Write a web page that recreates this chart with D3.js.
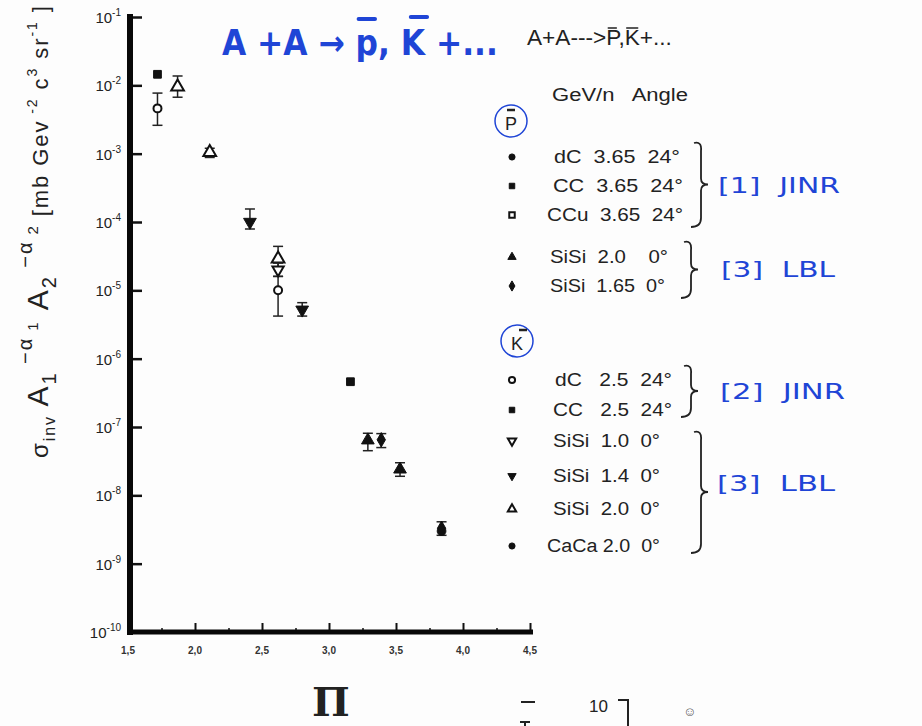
<!DOCTYPE html>
<html>
<head>
<meta charset="utf-8">
<script src="https://cdn.jsdelivr.net/npm/d3@7"></script>
<style>
  body { margin: 0; background: #fdfdfd; }
  svg { font-family: "Liberation Sans", Arial, sans-serif; }
</style>
</head>
<body>
<svg id="chart" width="922" height="726"></svg>
<script>
// ---- data ----
const xTicks = [1.5, 2.0, 2.5, 3.0, 3.5, 4.0, 4.5];
const yExponents = [-1, -2, -3, -4, -5, -6, -7, -8, -9, -10];

// K- series
const kCC_x = [1.72], kCC_y = [1.45e-2];
const kdC_x = [1.72, 2.62], kdC_y = [4.6e-3, 1.0e-5], kdC_lo = [2.6e-3, 4.2e-6], kdC_hi = [7.7e-3, 1.6e-5];
const kSi20_x = [1.87, 2.11, 2.62], kSi20_y = [9.5e-3, 1.05e-3, 2.9e-5], kSi20_lo = [6.7e-3, 8.8e-4, 2.2e-5], kSi20_hi = [1.37e-2, 1.2e-3, 4.4e-5];
const kSi14_x = [2.41, 2.80], kSi14_y = [1.0e-4, 5.2e-6], kSi14_lo = [7.9e-5, 4.2e-6], kSi14_hi = [1.55e-4, 6.6e-6];
const kSi10_x = [2.62], kSi10_y = [2.0e-5], kSi10_lo = [1.6e-5], kSi10_hi = [2.5e-5];
// p-bar series
const pCC_x = [3.16], pCC_y = [4.6e-7];
const pSi20_x = [3.29, 3.53], pSi20_y = [6.4e-8, 2.4e-8], pSi20_lo = [4.5e-8, 1.9e-8], pSi20_hi = [8.1e-8, 3.0e-8];
const pSi165_x = [3.39, 3.84], pSi165_y = [6.5e-8, 3.3e-9], pSi165_lo = [5.0e-8, 2.6e-9], pSi165_hi = [8.0e-8, 4.1e-9];
const pdC_x = [3.84], pdC_y = [3.0e-9];

const pLegend = ["dC  3.65  24°", "CC  3.65  24°", "CCu  3.65  24°", "SiSi  2.0    0°", "SiSi  1.65  0°"];
const pSymbols = ["circleF", "squareF", "squareO", "triF", "diamondF"];
const kLegend = ["dC   2.5  24°", "CC   2.5  24°", "SiSi  1.0  0°", "SiSi  1.4  0°", "SiSi  2.0  0°", "CaCa 2.0  0°"];
const kSymbols = ["circleO", "squareF", "triDownO", "triDownF", "triO", "circleF"];

const svg = d3.select("#chart");
const x = d3.scaleLinear().domain([1.5, 4.5]).range([128, 530]);
const y = d3.scaleLog().domain([1e-10, 1e-1]).range([632, 17]);

// ---- axes ----
svg.append("g")
  .attr("transform", "translate(128,0)")
  .call(d3.axisRight(y).tickValues(yExponents.map(e => Math.pow(10, e))).tickSize(14).tickFormat(""))
  .call(g => g.select(".domain").remove())
  .call(g => g.selectAll("line").attr("stroke", "#111").attr("stroke-width", 2.5));

const xMinor = d3.range(1.75, 4.5, 0.5);
svg.append("g")
  .attr("transform", "translate(0,632)")
  .call(d3.axisTop(x).tickValues(xTicks).tickSize(9).tickFormat(""))
  .call(g => g.select(".domain").remove())
  .call(g => g.selectAll("line").attr("stroke", "#111").attr("stroke-width", 2));
svg.append("g")
  .attr("transform", "translate(0,632)")
  .call(d3.axisTop(x).tickValues(xMinor).tickSize(4).tickFormat(""))
  .call(g => g.select(".domain").remove())
  .call(g => g.selectAll("line").attr("stroke", "#111").attr("stroke-width", 1.5));

svg.append("line").attr("x1", 130).attr("x2", 130).attr("y1", 14).attr("y2", 635)
  .attr("stroke", "#080808").attr("stroke-width", 6);
svg.append("line").attr("x1", 127).attr("x2", 533).attr("y1", 632).attr("y2", 632)
  .attr("stroke", "#080808").attr("stroke-width", 5);

// y tick labels 10^n
yExponents.forEach(e => {
  const t = svg.append("text").attr("x", 121).attr("y", y(Math.pow(10, e)) + 6)
    .attr("text-anchor", "end").attr("fill", "#222").attr("font-size", 15);
  t.append("tspan").text("10");
  t.append("tspan").attr("dy", -7).attr("font-size", 10).text(String(e));
});

// x tick labels with comma decimals
svg.selectAll(".xlab").data(xTicks).enter().append("text")
  .attr("x", d => x(d)).attr("y", 654)
  .attr("text-anchor", "middle").attr("font-size", 10).attr("font-weight", "bold").attr("fill", "#333")
  .text(d => d3.format(".1f")(d).replace(".", ","));

// x axis title
svg.append("text").attr("x", 331).attr("y", 716).attr("text-anchor", "middle")
  .attr("font-family", "DejaVu Serif").attr("font-weight", "bold").attr("font-size", 40).attr("fill", "#222").text("Π");

// y axis title
const yt = svg.append("text").attr("transform", "translate(48,232) rotate(-90)")
  .attr("text-anchor", "middle").attr("fill", "#222").attr("font-size", 30)
  .attr("textLength", 452).attr("lengthAdjust", "spacing");
yt.append("tspan").attr("font-size", 24).text("σ");
yt.append("tspan").attr("font-size", 16).attr("dy", 7).text("inv");
yt.append("tspan").attr("dy", -7).text(" A");
yt.append("tspan").attr("font-size", 20).attr("dy", 8).text("1");
yt.append("tspan").attr("font-size", 20).attr("dy", -24).text(" −α");
yt.append("tspan").attr("font-size", 15).attr("dy", 6).text(" 1");
yt.append("tspan").attr("dy", 10).text(" A");
yt.append("tspan").attr("font-size", 20).attr("dy", 8).text("2");
yt.append("tspan").attr("font-size", 20).attr("dy", -24).text(" −α");
yt.append("tspan").attr("font-size", 15).attr("dy", 6).text(" 2");
yt.append("tspan").attr("font-size", 22).attr("dy", 10).text("  [mb  Gev");
yt.append("tspan").attr("font-size", 14).attr("dy", -11).text(" -2");
yt.append("tspan").attr("font-size", 22).attr("dy", 11).text(" c");
yt.append("tspan").attr("font-size", 14).attr("dy", -11).text("3");
yt.append("tspan").attr("font-size", 22).attr("dy", 11).text("  sr");
yt.append("tspan").attr("font-size", 14).attr("dy", -11).text("-1");
yt.append("tspan").attr("font-size", 22).attr("dy", 11).text(" ]");

// ---- markers ----
function marker(g, kind, cx, cy, s) {
  const filled = kind.endsWith("F");
  const base = kind.slice(0, -1);
  const types = { circle: d3.symbolCircle, square: d3.symbolSquare, tri: d3.symbolTriangle,
                  triDown: d3.symbolTriangle, diamond: d3.symbolDiamond };
  g.append("path")
    .attr("d", d3.symbol().type(types[base]).size(s)())
    .attr("transform", `translate(${cx},${cy})` + (base === "triDown" ? " rotate(180)" : ""))
    .attr("fill", filled ? "#111" : "#fff")
    .attr("stroke", "#111").attr("stroke-width", filled ? 1 : 2);
}

function series(xs, ys, lo, hi, kind, s) {
  const g = svg.append("g");
  if (lo) {
    xs.forEach((d, i) => {
      const px = x(d);
      g.append("line").attr("x1", px).attr("x2", px).attr("y1", y(hi[i])).attr("y2", y(lo[i]))
        .attr("stroke", "#222").attr("stroke-width", 1.5);
      [hi[i], lo[i]].forEach(v => g.append("line").attr("x1", px - 5).attr("x2", px + 5)
        .attr("y1", y(v)).attr("y2", y(v)).attr("stroke", "#222").attr("stroke-width", 1.5));
    });
  }
  xs.forEach((d, i) => marker(g, kind, x(d), y(ys[i]), s));
}

series(kCC_x, kCC_y, null, null, "squareF", 60);
series(kdC_x, kdC_y, kdC_lo, kdC_hi, "circleO", 50);
series(kSi20_x, kSi20_y, kSi20_lo, kSi20_hi, "triO", 70);
series(kSi14_x, kSi14_y, kSi14_lo, kSi14_hi, "triDownF", 70);
series(kSi10_x, kSi10_y, kSi10_lo, kSi10_hi, "triDownO", 55);
series(pCC_x, pCC_y, null, null, "squareF", 60);
series(pSi20_x, pSi20_y, pSi20_lo, pSi20_hi, "triF", 70);
series(pSi165_x, pSi165_y, pSi165_lo, pSi165_hi, "diamondF", 60);
series(pdC_x, pdC_y, null, null, "circleF", 60);

// ---- legend ----
const blue = "#1f45d6";
svg.append("text").attr("x", 552).attr("y", 101).attr("font-size", 18).attr("fill", "#222")
  .attr("xml:space", "preserve").attr("textLength", 136).attr("lengthAdjust", "spacingAndGlyphs")
  .text("GeV/n   Angle");

// fit a text to a width by font size, then put bars over chosen characters
function fitted(sel, width) {
  const fs = +sel.attr("font-size");
  sel.attr("font-size", fs * width / sel.node().getComputedTextLength());
  return sel;
}
function bars(sel, idx, by, dx, sw, color) {
  const node = sel.node();
  idx.forEach(i => {
    const x0 = node.getStartPositionOfChar(i).x, x1 = node.getEndPositionOfChar(i).x;
    svg.append("line").attr("x1", x0 + dx[0]).attr("x2", x1 + dx[1]).attr("y1", by).attr("y2", by)
      .attr("stroke", color).attr("stroke-width", sw).attr("stroke-linecap", "round");
  });
}

const topT = fitted(svg.append("text").attr("x", 527).attr("y", 45).attr("font-size", 15).attr("fill", "#222")
  .text("A+A--->P,K+..."), 145);
bars(topT, [7, 9], 28, [2, -2], 1.3, "#222");

function circled(cx, cy, letter) {
  svg.append("circle").attr("cx", cx).attr("cy", cy).attr("r", 16)
    .attr("fill", "none").attr("stroke", blue).attr("stroke-width", 1.5);
  svg.append("text").attr("x", cx).attr("y", cy + 9).attr("text-anchor", "middle")
    .attr("font-size", 18).attr("fill", "#222").text(letter);
  svg.append("line").attr("x1", cx - 4 + (letter === "K" ? 6 : 0)).attr("x2", cx + 4 + (letter === "K" ? 6 : 0))
    .attr("y1", cy - 11).attr("y2", cy - 11).attr("stroke", "#222").attr("stroke-width", 2.5);
}
circled(511, 121, "P");
circled(517, 341, "K");

function legendRows(labels, symbols, ys, tx, tw) {
  labels.forEach((lab, i) => {
    marker(svg, symbols[i], 512, ys[i] - 6, 30);
    svg.append("text").attr("x", tx[i]).attr("y", ys[i]).attr("font-size", 18).attr("fill", "#222")
      .attr("xml:space", "preserve").attr("textLength", tw[i]).attr("lengthAdjust", "spacingAndGlyphs")
      .text(lab);
  });
}
legendRows(pLegend, pSymbols, [163, 192, 221, 263, 292], [554, 553, 547, 550, 550], [126, 130, 136, 118, 115]);
legendRows(kLegend, kSymbols, [386, 416, 447, 482, 515, 552], [555, 553, 553, 553, 553, 547], [117, 119, 107, 107, 107, 113]);

function brace(bx, y0, y1) {
  const m = (y0 + y1) / 2;
  svg.append("path")
    .attr("d", `M${bx - 6},${y0} Q${bx + 2},${y0 - 2} ${bx + 1},${y0 + 8} L${bx + 1},${m - 6} Q${bx + 1},${m} ${bx + 8},${m}
                Q${bx + 1},${m} ${bx + 1},${m + 6} L${bx + 1},${y1 - 8} Q${bx + 1},${y1 + 1} ${bx - 9},${y1 + 1}`)
    .attr("fill", "none").attr("stroke", "#222").attr("stroke-width", 1.8);
}
brace(700, 143, 226);
brace(690, 242, 297);
brace(690, 366, 416);
brace(700, 432, 552);

function hand(tx, ty, str, w) {
  svg.append("text").attr("x", tx).attr("y", ty).attr("font-size", 22).attr("fill", blue)
    .attr("font-family", "DejaVu Sans Condensed, DejaVu Sans")
    .attr("xml:space", "preserve").attr("textLength", w).attr("lengthAdjust", "spacingAndGlyphs").text(str);
}
hand(718, 193, "[1]  JINR", 122);
hand(721, 277, "[3]  LBL", 114);
hand(720, 399, "[2]  JINR", 125);
hand(717, 491, "[3]  LBL", 118);

// handwritten title
const title = fitted(svg.append("text").attr("x", 222).attr("y", 55).attr("font-size", 34).attr("font-weight", "bold")
  .attr("fill", blue).attr("font-family", "DejaVu Sans Condensed, DejaVu Sans").attr("xml:space", "preserve")
  .text("A +A → p, K +..."), 276);
bars(title, [7], 19, [3, -3], 4, blue);
bars(title, [10], 17, [10, 2], 4, blue);

// scan remnants at bottom right
svg.append("text").attr("x", 589).attr("y", 712).attr("font-size", 17).attr("fill", "#222").text("10");
svg.append("path").attr("d", "M521,702 L535,702 M525,721 L525,726 M520,722 L530,722 M618,700 L628,700 L628,726")
  .attr("fill", "none").attr("stroke", "#222").attr("stroke-width", 2);
svg.append("text").attr("x", 683).attr("y", 716).attr("font-size", 13).attr("fill", "#555").text("☺");
</script>
</body>
</html>
